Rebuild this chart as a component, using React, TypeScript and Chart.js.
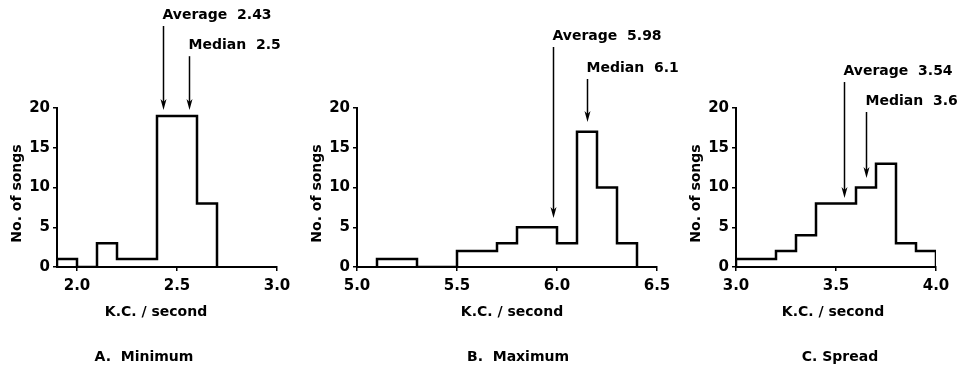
import React, { useEffect, useRef } from "react";
import { Chart, registerables } from "chart.js";

Chart.register(...registerables);

const FONT = '"DejaVu Sans", "Liberation Sans", sans-serif';

// Panel A: minimum frequency
const minEdges = [1.9, 2.0, 2.1, 2.2, 2.3, 2.4, 2.5, 2.6, 2.7];
const minCounts = [1, 0, 3, 1, 1, 19, 19, 8];
const minTicks = [2.0, 2.5, 3.0];
const minMarkers = [
  { x: 2.43, label: "Average  2.43", labelY: 31.7, tip: 19.75 },
  { x: 2.56, label: "Median  2.5", labelY: 27.9, tip: 19.75 },
];

// Panel B: maximum frequency
const maxEdges = [5.1, 5.3, 5.5, 5.7, 5.8, 6.0, 6.1, 6.2, 6.3, 6.4];
const maxCounts = [1, 0, 2, 3, 5, 3, 17, 10, 3];
const maxTicks = [5.0, 5.5, 6.0, 6.5];
const maxMarkers = [
  { x: 5.98, label: "Average  5.98", labelY: 29.06, tip: 6.16 },
  { x: 6.15, label: "Median  6.1", labelY: 25.03, tip: 18.24 },
];

// Panel C: spread
const spreadEdges = [3.0, 3.2, 3.3, 3.4, 3.6, 3.7, 3.8, 3.9, 4.0];
const spreadCounts = [1, 2, 4, 8, 10, 13, 3, 2];
const spreadTicks = [3.0, 3.5, 4.0];
const spreadMarkers = [
  { x: 3.54, label: "Average  3.54", labelY: 24.65, tip: 8.68 },
  { x: 3.65, label: "Median  3.6", labelY: 20.88, tip: 11.19 },
];

const countTicks = [0, 5, 10, 15, 20];
const xTitle = "K.C. / second";
const yTitle = "No. of songs";

type Marker = { x: number; label: string; labelY: number; tip: number };

type PanelProps = {
  left: number;
  width: number;
  yWidth: number;
  padRight: number;
  edges: number[];
  counts: number[];
  xMin: number;
  xMax: number;
  xTicks: number[];
  markers: Marker[];
  title: string;
  titleAt: number;
  xTitleAt: number;
};

function Panel(p: PanelProps) {
  const ref = useRef<HTMLCanvasElement | null>(null);
  useEffect(() => {
    if (!ref.current) return;
    const points = [
      { x: p.edges[0], y: 0 },
      ...p.edges.map((e, i) => ({ x: e, y: i < p.counts.length ? p.counts[i] : 0 })),
    ];
    const overlay = {
      id: "overlay",
      afterDraw(chart: any) {
        const { ctx, chartArea, scales } = chart;
        const xs = scales.x;
        const ys = scales.y;
        ctx.save();
        ctx.fillStyle = "#000";
        ctx.strokeStyle = "#000";
        ctx.font = `bold 14px ${FONT}`;
        ctx.textBaseline = "middle";
        ctx.textAlign = "left";
        for (const m of p.markers) {
          const px = Math.round(xs.getPixelForValue(m.x)) + 0.5;
          const ly = ys.getPixelForValue(m.labelY);
          const ty = ys.getPixelForValue(m.tip);
          ctx.fillText(m.label, px - 1, ly);
          ctx.lineWidth = 1.5;
          ctx.beginPath();
          ctx.moveTo(px, ly + 11);
          ctx.lineTo(px, ty - 8);
          ctx.stroke();
          ctx.beginPath();
          ctx.moveTo(px - 3, ty - 11);
          ctx.lineTo(px, ty);
          ctx.lineTo(px + 3, ty - 11);
          ctx.lineTo(px, ty - 8);
          ctx.closePath();
          ctx.fill();
        }
        ctx.textAlign = "center";
        ctx.fillText(xTitle, xs.getPixelForValue(p.xTitleAt), chartArea.bottom + 45);
        ctx.fillText(p.title, xs.getPixelForValue(p.titleAt), chartArea.bottom + 90);
        ctx.translate(chartArea.left - 40, (chartArea.top + chartArea.bottom) / 2 + 6);
        ctx.rotate(-Math.PI / 2);
        ctx.fillText(yTitle, 0, 0);
        ctx.restore();
      },
    };
    const tickFont = { family: FONT, size: 15, weight: "bold" as const };
    const chart = new Chart(ref.current, {
      type: "line",
      data: {
        datasets: [
          {
            data: points,
            stepped: "before",
            borderColor: "#000",
            borderWidth: 2.5,
            pointRadius: 0,
            fill: false,
            borderJoinStyle: "miter",
            borderCapStyle: "butt",
          } as any,
        ],
      },
      options: {
        responsive: false,
        animation: false,
        layout: { padding: { top: 108, right: p.padRight, bottom: 70, left: 0 } },
        plugins: {
          legend: { display: false },
          tooltip: { enabled: false },
          title: { display: false },
        },
        scales: {
          x: {
            type: "linear",
            min: p.xMin,
            max: p.xMax,
            afterBuildTicks: (s: any) => {
              s.ticks = p.xTicks.map((v) => ({ value: v }));
            },
            afterFit: (s: any) => {
              s.height = 30;
            },
            grid: { drawOnChartArea: false, drawTicks: true, tickLength: 4, color: "#000", lineWidth: 1.5 },
            border: { display: true, color: "#000", width: 2 },
            ticks: {
              color: "#000",
              font: tickFont,
              padding: 6,
              maxRotation: 0,
              autoSkip: false,
              callback: (v: any) => Number(v).toFixed(1),
            },
          },
          y: {
            type: "linear",
            min: 0,
            max: 20,
            afterBuildTicks: (s: any) => {
              s.ticks = countTicks.map((v) => ({ value: v }));
            },
            afterFit: (s: any) => {
              s.width = p.yWidth;
            },
            grid: { drawOnChartArea: false, drawTicks: true, tickLength: 4, color: "#000", lineWidth: 1.5 },
            border: { display: true, color: "#000", width: 2 },
            ticks: {
              color: "#000",
              font: tickFont,
              padding: 3,
              autoSkip: false,
              callback: (v: any) => String(v),
            },
          },
        },
      },
      plugins: [overlay],
    });
    return () => chart.destroy();
  }, []);
  return (
    <canvas
      ref={ref}
      width={p.width}
      height={367}
      style={{ position: "absolute", left: p.left, top: 0, width: p.width, height: 367 }}
    />
  );
}

export default function App() {
  return (
    <div style={{ position: "absolute", left: 0, top: 0, width: 968, height: 367, background: "#fff", overflow: "hidden" }}>
      <Panel
        left={0}
        width={300}
        yWidth={57}
        padRight={23}
        edges={minEdges}
        counts={minCounts}
        xMin={1.9}
        xMax={3.0}
        xTicks={minTicks}
        markers={minMarkers}
        title="A.  Minimum"
        titleAt={2.335}
        xTitleAt={2.395}
      />
      <Panel
        left={300}
        width={380}
        yWidth={57}
        padRight={23}
        edges={maxEdges}
        counts={maxCounts}
        xMin={5.0}
        xMax={6.5}
        xTicks={maxTicks}
        markers={maxMarkers}
        title="B.  Maximum"
        titleAt={5.805}
        xTitleAt={5.775}
      />
      <Panel
        left={680}
        width={288}
        yWidth={56}
        padRight={32}
        edges={spreadEdges}
        counts={spreadCounts}
        xMin={3.0}
        xMax={4.0}
        xTicks={spreadTicks}
        markers={spreadMarkers}
        title="C. Spread"
        titleAt={3.52}
        xTitleAt={3.485}
      />
    </div>
  );
}
